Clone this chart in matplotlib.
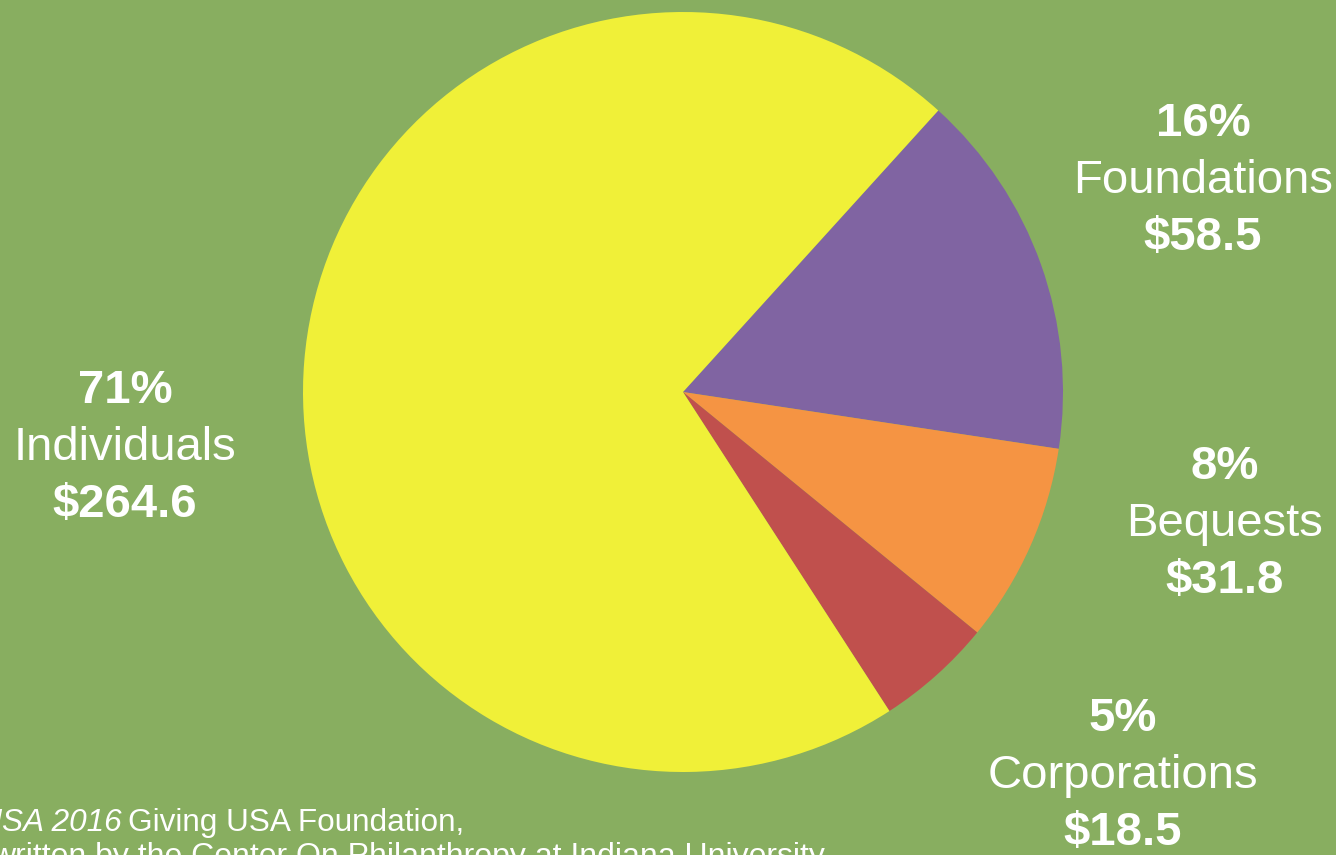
import matplotlib.pyplot as plt
import numpy as np

##### Giving USA 2016: sources of contributions (billions $) #####

labels = ["Foundations", "Bequests", "Corporations", "Individuals"]
amounts = [58.5, 31.8, 18.5, 264.6]
pct_text = ["16%", "8%", "5%", "71%"]
amount_text = ["$58.5", "$31.8", "$18.5", "$264.6"]
colors = ["#8064A2", "#F59443", "#C0504D", "#F0F038"]
bg = "#88AE60"

# label centres in pixels (x, y of the middle line), from the reference
label_pos = [(1203, 181), (1225, 524), (1123, 776), (125, 448)]

W, H = 1336, 855
fig = plt.figure(figsize=(W / 100, H / 100), dpi=100)
fig.patch.set_facecolor(bg)
ax = fig.add_axes([0, 0, 1, 1])
ax.set_facecolor(bg)

ax.pie(amounts, colors=colors, startangle=47.8, counterclock=False,
       radius=1, wedgeprops=dict(linewidth=0))

# centre at (683, 392) px, radius 380 px
r_px = 380
cx, cy = 683, 392
ax.set_xlim(-cx / r_px, (W - cx) / r_px)
ax.set_ylim(-(H - cy) / r_px, cy / r_px)
ax.set_aspect("auto")
ax.axis("off")

font = ["Liberation Sans", "DejaVu Sans"]
fs = 34
gap = 57
for i in range(len(labels)):
    x, y = label_pos[i]
    fx = x / W
    fig.text(fx, 1 - (y - gap) / H, pct_text[i], color="white", fontsize=fs,
             fontweight="bold", ha="center", va="center", family=font)
    fig.text(fx, 1 - y / H, labels[i], color="white", fontsize=fs,
             ha="center", va="center", family=font)
    fig.text(fx, 1 - (y + gap) / H, amount_text[i], color="white", fontsize=fs,
             fontweight="bold", ha="center", va="center", family=font)

# source note, cut off at the left edge like the original slide
note_font = ["Liberation Sans", "DejaVu Sans"]
fig.text(122 / W, 1 - 823 / H, "Source: Giving USA 2016", color="white",
         fontsize=22.7, style="italic", ha="right", va="center", family=note_font)
fig.text(128 / W, 1 - 823 / H, "Giving USA Foundation,", color="white",
         fontsize=22.7, ha="left", va="center", family=note_font)
fig.text(-8 / W, 1 - 857 / H,
         "written by the Center On Philanthropy at Indiana University",
         color="white", fontsize=23.0, ha="left", va="center", family=note_font)

plt.savefig("out.png", dpi=100, facecolor=bg)
